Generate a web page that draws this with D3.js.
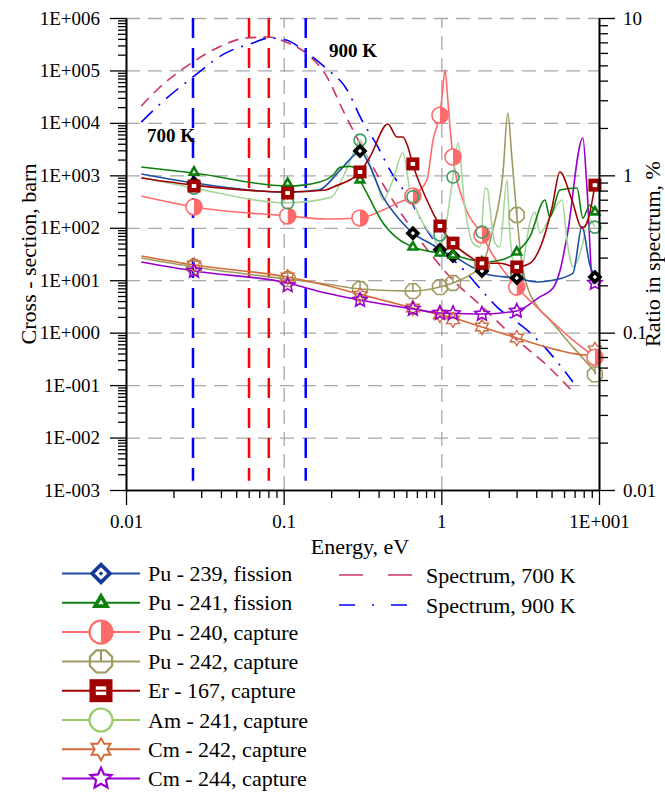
<!DOCTYPE html>
<html>
<head>
<meta charset="utf-8">
<script src="https://cdn.jsdelivr.net/npm/d3@7"></script>
<style>
  body { margin: 0; background: #fff; }
  svg, svg text { font-family: 'Liberation Serif', 'Times New Roman', serif; }
  svg { display: block; }
</style>
</head>
<body>
<svg id="chart" width="665" height="792"></svg>
<script>
// cross sections, barn  [energy eV, value]
var pu239Line = [[0.0125,1060],[0.027,715],[0.106,480],[0.167,525],[0.228,1260],[0.283,2500],[0.305,3000],[0.337,1960],[0.427,387],[0.546,141],[0.66,79],[0.885,47],[0.98,38],[1.186,29],[1.585,17.5],[1.81,14.5],[2.03,12.6],[3.01,11],[4.04,9.25],[5.1,10],[6.84,13.7],[7.8,105],[8.75,19.5],[9.42,11.5]];
var pu239Marks = [[0.027,715],[0.106,480],[0.305,2900],[0.66,79],[0.98,38],[1.186,29],[1.81,15],[3.01,11],[9.42,11.5]];

var pu241Line = [[0.0125,1440],[0.027,1107],[0.106,625],[0.167,740],[0.206,1014],[0.228,1420],[0.263,1480],[0.283,1380],[0.305,815],[0.337,460],[0.427,123],[0.546,58],[0.66,43],[0.885,34.5],[0.98,33],[1.186,30],[1.585,24],[1.81,22],[2.35,24],[3.01,34.5],[3.64,67],[4.54,338],[4.88,160],[5.65,525],[7.25,573],[7.9,153],[8.75,272],[9.42,200]];
var pu241Marks = [[0.027,1150],[0.106,700],[0.305,815],[0.66,43],[0.98,33],[1.186,30],[1.81,22],[3.01,34.5],[9.42,200]];

var pu240Line = [[0.0125,404],[0.027,249],[0.106,168],[0.185,147],[0.305,154],[0.427,218],[0.546,310],[0.66,403],[0.81,815],[0.885,4700],[0.98,15400],[1.01,31000],[1.055,102000],[1.10,27000],[1.135,8300],[1.186,2230],[1.37,338],[1.81,73],[2.03,38],[3.01,7.4],[4.22,2.7],[6.84,0.72],[9.42,0.34]];
var pu240Marks = [[0.027,250],[0.106,168],[0.305,154],[0.66,403],[0.98,14000],[1.186,2230],[1.81,73],[3.01,7.4],[9.42,0.34]];

var pu242Line = [[0.0125,26.5],[0.027,17.9],[0.106,10.5],[0.185,8.47],[0.305,6.8],[0.66,6.2],[0.98,7.4],[1.186,8.85],[1.52,12.6],[1.81,19.5],[2.12,91],[2.46,1100],[2.64,15400],[2.80,2230],[3.01,175],[3.29,15.7],[4.22,2.7],[4.67,2.0],[6.84,0.53],[9.6,0.17]];
var pu242Marks = [[0.027,17.9],[0.106,10.5],[0.305,6.8],[0.66,6.2],[0.98,7.4],[1.186,8.85],[1.81,19.5],[3.01,175],[9.42,0.16]];

var er167Line = [[0.0125,890],[0.027,650],[0.106,480],[0.185,525],[0.206,600],[0.305,1160],[0.352,2230],[0.458,9500],[0.523,5380],[0.57,5380],[0.614,3470],[0.66,1600],[0.81,338],[0.98,108],[1.186,51],[1.52,28],[1.81,21],[2.35,21],[3.01,17.9],[3.64,21],[4.41,58],[5.03,238],[5.65,1160],[6.73,338],[7.8,99],[8.38,123],[9.42,650]];
var er167Marks = [[0.027,625],[0.106,460],[0.305,1160],[0.66,1650],[0.98,108],[1.186,51],[1.81,21],[3.01,17.9],[9.42,650]];

var am241Line = [[0.0125,920],[0.027,570],[0.106,300],[0.2,380],[0.238,930],[0.283,3040],[0.305,4700],[0.337,2230],[0.391,715],[0.427,338],[0.493,815],[0.57,2670],[0.632,525],[0.764,123],[0.885,67],[0.98,43],[1.186,930],[1.274,4130],[1.41,249],[1.585,51],[1.76,43],[1.89,573],[1.97,525],[2.03,249],[2.19,51],[2.35,43],[2.61,815],[2.72,79],[3.01,12.6],[3.29,21],[3.64,123],[3.92,200],[4.22,79],[4.88,160],[5.82,338],[6.26,58],[6.84,18],[7.9,51],[8.5,153],[9.42,103]];
var am241Marks = [[0.027,570],[0.106,300],[0.305,4700],[0.66,390],[0.98,73],[1.186,930],[1.81,83],[3.01,12.6],[9.42,103]];

var cm242Line = [[0.0125,28.9],[0.027,19.5],[0.106,11.5],[0.185,8.0],[0.305,5.4],[0.66,2.95],[0.98,2.17],[1.186,1.9],[1.81,1.28],[3.01,0.79],[5.41,0.47],[8.38,0.375],[9.42,0.40]];
var cm242Marks = [[0.027,19.5],[0.106,11.5],[0.305,5.2],[0.66,2.95],[0.98,2.17],[1.186,1.75],[1.81,1.28],[3.01,0.79],[9.42,0.47]];

var cm244Line = [[0.0125,22.2],[0.027,15],[0.106,8.85],[0.185,5.7],[0.305,4.2],[0.66,2.83],[0.98,2.37],[1.186,2.33],[1.81,2.27],[3.01,2.59],[4.22,4.8],[5.1,7],[5.65,15],[6.26,67],[7.9,5150],[8.38,600],[9.14,8.85],[9.42,8.85]];
var cm244Marks = [[0.027,15],[0.106,8],[0.305,4.2],[0.66,2.83],[0.98,2.37],[1.186,2.33],[1.81,2.27],[3.01,2.59],[9.42,8.85]];

// neutron spectrum, % (right axis)
var spec700 = [[0.0125,2.76],[0.0162,3.59],[0.0266,5.25],[0.0389,6.55],[0.0577,7.46],[0.0807,7.57],[0.1035,7.03],[0.138,6.0],[0.185,4.35],[0.241,2.52],[0.368,1.13],[0.523,0.63],[0.885,0.303],[1.135,0.226],[1.84,0.144],[3.01,0.09],[4.67,0.062],[6.84,0.042]];
var spec900 = [[0.0125,2.18],[0.0162,2.80],[0.0266,4.22],[0.043,6.0],[0.0638,6.93],[0.0807,7.46],[0.1035,7.25],[0.138,6.08],[0.185,4.81],[0.248,3.59],[0.318,2.18],[0.391,1.55],[0.472,1.08],[0.632,0.70],[0.81,0.449],[1.45,0.239],[2.25,0.146],[3.49,0.104],[4.67,0.078],[6.84,0.0486]];

// vertical marker lines
var vlineEnergy = [0.0266, 0.0603, 0.0805, 0.138];
var vlineColor = ['#0000ff', '#ff0000', '#ff0000', '#0000ff'];

var annoText = ['700 K', '900 K'];
var annoEnergy = [0.0136, 0.194];
var annoRatio = [1.63, 5.65];

var seriesNames = ['Pu - 239, fission', 'Pu - 241, fission', 'Pu - 240, capture', 'Pu - 242, capture',
                   'Er - 167, capture', 'Am - 241, capture', 'Cm - 242, capture', 'Cm - 244, capture'];
var spectrumNames = ['Spectrum, 700 K', 'Spectrum, 900 K'];

var series = [
  { line: pu239Line, marks: pu239Marks, color: '#1f4ea6', mark: '#000000', legendMark: '#15399a', shape: 'diamond', s: 7.5 },
  { line: pu241Line, marks: pu241Marks, color: '#0c800c', mark: '#0c800c', legendMark: '#0c800c', shape: 'triangle', s: 7.5 },
  { line: pu240Line, marks: pu240Marks, color: '#ff6b6b', mark: '#ff6b6b', legendMark: '#ff6b6b', shape: 'half', s: 8 },
  { line: pu242Line, marks: pu242Marks, color: '#a09a62', mark: '#a09a62', legendMark: '#a09a62', shape: 'octagon', s: 8 },
  { line: er167Line, marks: er167Marks, color: '#a00000', mark: '#a00000', legendMark: '#a00000', shape: 'square', s: 6.5 },
  { line: am241Line, marks: am241Marks, color: '#a6d69e', mark: '#3c9a62', legendMark: '#99cc66', legendLine: '#99cc66', shape: 'circle', s: 6 },
  { line: cm242Line, marks: cm242Marks, color: '#d46a3a', mark: '#d46a3a', legendMark: '#d46a3a', shape: 'star6', s: 7.5 },
  { line: cm244Line, marks: cm244Marks, color: '#9a00cc', mark: '#9a00cc', legendMark: '#9a00cc', shape: 'star5', s: 7.5 }
];
var markOrder = [3, 6, 7, 2, 5, 0, 1, 4];

var svg = d3.select('#chart');
var plotLeft = 126, plotRight = 599, plotTop = 18, plotBottom = 490;
var FONT = "'Liberation Serif', 'Times New Roman', serif";

var x = d3.scaleLog().domain([0.01, 10]).range([plotLeft, plotRight]);
var y = d3.scaleLog().domain([1e-3, 1e6]).range([plotBottom, plotTop]);
var y2 = d3.scaleLog().domain([0.01, 10]).range([plotBottom, plotTop]);

function isMajor(v) {
  var l = Math.log10(v);
  return Math.abs(l - Math.round(l)) < 1e-6;
}
function fmtE(v) {
  var e = Math.round(Math.log10(v));
  return '1E' + (e < 0 ? '-' : '+') + String(Math.abs(e)).padStart(3, '0');
}

// grid
var grid = svg.append('g');
grid.append('g')
    .attr('transform', 'translate(' + plotLeft + ',0)')
    .call(d3.axisLeft(y).tickValues(y.ticks().filter(isMajor).filter(function (v) { return v > 1e-3; }))
          .tickSize(-(plotRight - plotLeft)).tickFormat(''));
grid.append('g')
    .attr('transform', 'translate(0,' + plotBottom + ')')
    .call(d3.axisBottom(x).tickValues([0.1, 1]).tickSize(-(plotBottom - plotTop)).tickFormat(''));
grid.selectAll('.domain').remove();
grid.selectAll('line').attr('stroke', '#a8a8a8').attr('stroke-width', 1.3).attr('stroke-dasharray', '14,8');

// vertical temperature lines
svg.append('g').selectAll('line')
   .data(vlineEnergy)
   .enter().append('line')
   .attr('x1', function (d) { return x(d); })
   .attr('x2', function (d) { return x(d); })
   .attr('y1', y(1e6))
   .attr('y2', y(1.5e-3))
   .attr('stroke', function (d, i) { return vlineColor[i]; })
   .attr('stroke-width', 2.5)
   .attr('stroke-dasharray', '20,10');

// spectra
var specLine = d3.line()
    .x(function (d) { return x(d[0]); })
    .y(function (d) { return y2(d[1]); })
    .curve(d3.curveMonotoneX);

svg.append('path').attr('d', specLine(spec700))
   .attr('fill', 'none').attr('stroke', '#cc3366').attr('stroke-width', 1.6).attr('stroke-dasharray', '11,7');
svg.append('path').attr('d', specLine(spec900))
   .attr('fill', 'none').attr('stroke', '#0000ff').attr('stroke-width', 1.6).attr('stroke-dasharray', '16,8,2,8');

// cross-section lines
var csLine = d3.line()
    .x(function (d) { return x(d[0]); })
    .y(function (d) { return y(d[1]); })
    .curve(d3.curveMonotoneX);

markOrder.forEach(function (i) {
  svg.append('path').attr('d', csLine(series[i].line))
     .attr('fill', 'none').attr('stroke', series[i].color).attr('stroke-width', 1.6);
});

function poly(pts) {
  return 'M' + pts.map(function (p) { return p[0].toFixed(2) + ',' + p[1].toFixed(2); }).join('L') + 'Z';
}
function starPts(n, ro, ri) {
  var pts = [];
  for (var k = 0; k < 2 * n; k++) {
    var r = k % 2 ? ri : ro, a = -Math.PI / 2 + k * Math.PI / n;
    pts.push([r * Math.cos(a), r * Math.sin(a)]);
  }
  return pts;
}
function scaled(pts, f) {
  return pts.map(function (p) { return [p[0] * f, p[1] * f]; });
}

function drawMarker(g, shape, s, col, legend) {
  var sw = legend ? 2.2 : 1.6;
  switch (shape) {
    case 'diamond':
      var dia = [[0, -s], [s, 0], [0, s], [-s, 0]];
      g.append('path').attr('d', poly(dia)).attr('fill', col);
      g.append('path').attr('d', poly(scaled(dia, legend ? 0.55 : 0.3))).attr('fill', '#fff');
      if (legend) g.append('path').attr('d', poly(scaled(dia, 0.2))).attr('fill', col);
      break;
    case 'triangle':
      var tri = [[0, -s], [s * 0.866, s * 0.5], [-s * 0.866, s * 0.5]];
      g.append('path').attr('d', poly(tri)).attr('fill', col);
      g.append('path').attr('d', poly(scaled(tri, 0.3))).attr('fill', '#fff');
      break;
    case 'half':
      g.append('circle').attr('r', s).attr('fill', '#fff').attr('stroke', col).attr('stroke-width', sw);
      g.append('path').attr('d', 'M0,' + (-s) + 'A' + s + ',' + s + ' 0 0 1 0,' + s + 'Z').attr('fill', col);
      break;
    case 'octagon':
      var oct = d3.range(8).map(function (k) {
        var a = Math.PI / 8 + k * Math.PI / 4;
        return [s * Math.cos(a), s * Math.sin(a)];
      });
      g.append('path').attr('d', poly(oct)).attr('fill', 'none').attr('stroke', col).attr('stroke-width', sw);
      g.append('line').attr('x1', 0).attr('x2', 0).attr('y1', -s * 0.92).attr('y2', 0)
       .attr('stroke', col).attr('stroke-width', sw);
      break;
    case 'square':
      g.append('rect').attr('x', -s).attr('y', -s).attr('width', 2 * s).attr('height', 2 * s).attr('fill', col);
      var w = legend ? 0.45 : 0.35, h = legend ? 0.38 : 0.3;
      g.append('rect').attr('x', -s * w).attr('y', -s * h).attr('width', 2 * s * w).attr('height', 2 * s * h).attr('fill', '#fff');
      if (legend) g.append('rect').attr('x', -s * w).attr('y', -s * 0.08).attr('width', 2 * s * w).attr('height', s * 0.16).attr('fill', col);
      break;
    case 'circle':
      g.append('circle').attr('r', s).attr('fill', legend ? '#fff' : 'none').attr('stroke', col).attr('stroke-width', sw);
      break;
    case 'star6':
      g.append('path').attr('d', poly(starPts(6, s, s * 0.577))).attr('fill', legend ? '#fff' : 'none')
       .attr('stroke', col).attr('stroke-width', sw * 0.85);
      break;
    case 'star5':
      g.append('path').attr('d', poly(starPts(5, s, s * 0.47))).attr('fill', legend ? '#fff' : 'none')
       .attr('stroke', col).attr('stroke-width', sw);
      break;
  }
}

// markers
markOrder.forEach(function (i) {
  var sr = series[i];
  svg.append('g').selectAll('g')
     .data(sr.marks)
     .enter().append('g')
     .attr('transform', function (d) { return 'translate(' + x(d[0]) + ',' + y(d[1]) + ')'; })
     .each(function () { drawMarker(d3.select(this), sr.shape, sr.s, sr.mark, false); });
});

// temperature labels
svg.append('g').selectAll('text')
   .data(annoText)
   .enter().append('text')
   .attr('x', function (d, i) { return x(annoEnergy[i]); })
   .attr('y', function (d, i) { return y2(annoRatio[i]); })
   .style('font-family', FONT).style('font-size', '19px').style('font-weight', 'bold')
   .text(function (d) { return d; });

// axes
function styleAxis(g) {
  g.attr('font-family', null).attr('font-size', null);
  g.selectAll('text').attr('fill', '#000').style('font-family', FONT).style('font-size', '19px');
  g.selectAll('line').attr('stroke', '#000').attr('stroke-width', 1.3);
  g.selectAll('.domain').attr('stroke', '#000').attr('stroke-width', 1.6);
}

var yMinor = y.ticks().filter(function (v) { return !isMajor(v); });
var xMinor = x.ticks().filter(function (v) { return !isMajor(v); });
var y2Minor = y2.ticks().filter(function (v) { return !isMajor(v); });

svg.append('g').attr('transform', 'translate(' + plotLeft + ',0)')
   .call(d3.axisLeft(y).tickValues(yMinor).tickFormat('').tickSize(8).tickSizeOuter(0)).call(styleAxis);
svg.append('g').attr('transform', 'translate(' + plotLeft + ',0)')
   .call(d3.axisLeft(y).tickValues(y.ticks().filter(isMajor)).tickFormat(fmtE).tickSize(16).tickSizeOuter(0).tickPadding(10))
   .call(styleAxis);

svg.append('g').attr('transform', 'translate(0,' + plotBottom + ')')
   .call(d3.axisBottom(x).tickValues(xMinor).tickFormat('').tickSize(8).tickSizeOuter(0)).call(styleAxis);
svg.append('g').attr('transform', 'translate(0,' + plotBottom + ')')
   .call(d3.axisBottom(x).tickValues(x.ticks().filter(isMajor))
         .tickFormat(function (v) { return v >= 10 ? fmtE(v) : String(v); })
         .tickSize(15).tickSizeOuter(0).tickPadding(10))
   .call(styleAxis);

svg.append('g').attr('transform', 'translate(' + plotRight + ',0)')
   .call(d3.axisRight(y2).tickValues(y2Minor).tickFormat('').tickSize(9).tickSizeOuter(0)).call(styleAxis);
svg.append('g').attr('transform', 'translate(' + plotRight + ',0)')
   .call(d3.axisRight(y2).tickValues(y2.ticks().filter(isMajor)).tickFormat(function (v) { return String(v); })
         .tickSize(16).tickSizeOuter(0).tickPadding(8))
   .call(styleAxis);

// axis titles
svg.append('text').attr('transform', 'translate(36,' + (plotTop + plotBottom) / 2 + ') rotate(-90)')
   .attr('text-anchor', 'middle').style('font-family', FONT).style('font-size', '22px')
   .text('Cross - section, barn');
svg.append('text').attr('transform', 'translate(660,' + (plotTop + plotBottom) / 2 + ') rotate(-90)')
   .attr('text-anchor', 'middle').style('font-family', FONT).style('font-size', '22px')
   .text('Ratio in spectrum, %');
svg.append('text').attr('x', 360).attr('y', 554)
   .attr('text-anchor', 'middle').style('font-family', FONT).style('font-size', '22px')
   .text('Energy, eV');

// legend
var legendSizes = [11.5, 10.5, 11.5, 12, 11.5, 11.5, 11, 11];
var legend = svg.append('g');
var rows = legend.selectAll('g.row')
    .data(series)
    .enter().append('g')
    .attr('class', 'row')
    .attr('transform', function (d, i) { return 'translate(0,' + (573.5 + i * 29.3) + ')'; });
rows.append('line').attr('x1', 62).attr('x2', 140)
    .attr('stroke', function (d) { return d.legendLine || d.color; }).attr('stroke-width', 2);
rows.append('g').attr('transform', 'translate(101,0)')
    .each(function (d, i) { drawMarker(d3.select(this), d.shape, legendSizes[i], d.legendMark, true); });
rows.append('text').attr('x', 148).attr('y', 7.5)
    .style('font-family', FONT).style('font-size', '22px')
    .text(function (d, i) { return seriesNames[i]; });

var specStyles = [{ color: '#cc3366', dash: '24,25' }, { color: '#0000ff', dash: '16,17,2,17' }];
var specRows = legend.selectAll('g.spec')
    .data(specStyles)
    .enter().append('g')
    .attr('class', 'spec')
    .attr('transform', function (d, i) { return 'translate(0,' + (575 + i * 30) + ')'; });
specRows.append('line').attr('x1', 339).attr('x2', 413)
    .attr('stroke', function (d) { return d.color; }).attr('stroke-width', 1.6)
    .attr('stroke-dasharray', function (d) { return d.dash; });
specRows.append('text').attr('x', 426).attr('y', 7.5)
    .style('font-family', FONT).style('font-size', '22px')
    .text(function (d, i) { return spectrumNames[i]; });
</script>
</body>
</html>
